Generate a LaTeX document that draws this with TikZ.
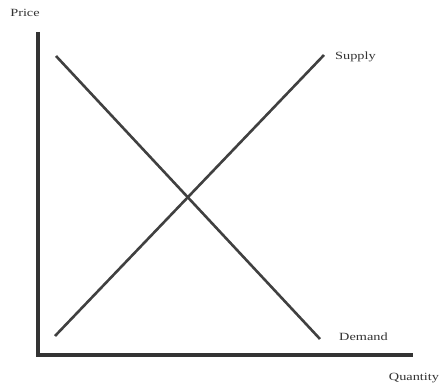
\documentclass[tikz,border=0pt]{standalone}
\usepackage{fontspec}
\setmainfont{Liberation Serif}[FakeStretch=1.3]
\begin{document}
\begin{tikzpicture}[x=1pt,y=-1pt,
  axis/.style={line width=3.5pt,draw=black!80},
  curve/.style={line width=2.6pt,draw=black!75},
  lbl/.style={font=\fontsize{11}{13}\selectfont,text=black!80,inner sep=0pt}]
\useasboundingbox (0,0) rectangle (443,387);
\coordinate (top) at (38,32);
\coordinate (origin) at (38,355);
\coordinate (right) at (413,355);
\coordinate (s1) at (55,336);
\coordinate (s2) at (324,55);
\coordinate (d1) at (56,56);
\coordinate (d2) at (320,339);
\draw[axis] (top) -- (origin) -- (right);
\draw[curve] (s1) -- (s2);
\draw[curve] (d1) -- (d2);
\node[lbl] (price) at (25,13) {Price};
\node[lbl,anchor=west] (supply) at (335,57) {Supply};
\node[lbl,anchor=west] (demand) at (339,337) {Demand};
\node[lbl] (quantity) at (414,378) {Quantity};
\end{tikzpicture}
\end{document}
